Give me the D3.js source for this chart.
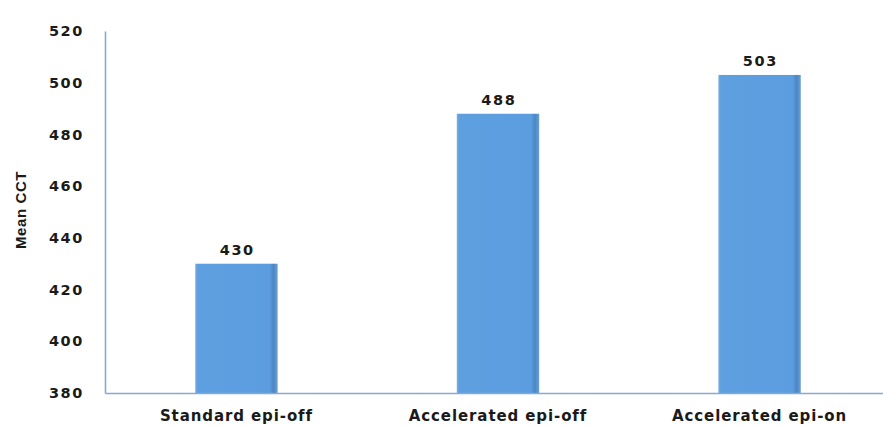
<!DOCTYPE html>
<html>
<head>
<meta charset="utf-8">
<script src="https://cdn.jsdelivr.net/npm/d3@7"></script>
<style>
  html, body { margin: 0; padding: 0; background: #fff; }
  svg { display: block; }
</style>
</head>
<body>
<svg id="chart" width="883" height="426"></svg>
<script>
// Mean corneal thickness per cross-linking protocol
const categories = ["Standard epi-off", "Accelerated epi-off", "Accelerated epi-on"];
const meanCCT = [430, 488, 503];
const yTicks = [380, 400, 420, 440, 460, 480, 500, 520];

const W = 883, H = 426;
const margin = { left: 105, right: 0, top: 31, bottom: 33 };
const labelFont = "DejaVu Sans, Verdana, sans-serif";

const svg = d3.select("#chart");

const x = d3.scaleBand()
  .domain(categories)
  .range([105, 891])
  .paddingInner(0.685)
  .paddingOuter(0.345);

const y = d3.scaleLinear()
  .domain([380, 520])
  .range([H - margin.bottom, margin.top]);

// bar shading: light body with a darker right rim
const defs = svg.append("defs");
const grad = defs.append("linearGradient").attr("id", "barFill")
  .attr("x1", 0).attr("x2", 1).attr("y1", 0).attr("y2", 0);
grad.append("stop").attr("offset", "0%").attr("stop-color", "#7aaee0");
grad.append("stop").attr("offset", "3%").attr("stop-color", "#5e9fe0");
grad.append("stop").attr("offset", "90%").attr("stop-color", "#5b9ddf");
grad.append("stop").attr("offset", "95%").attr("stop-color", "#4c86c4");
grad.append("stop").attr("offset", "100%").attr("stop-color", "#6a9fd2");

const data = categories.map((c, i) => ({ c, v: meanCCT[i] }));

svg.append("g").selectAll("rect")
  .data(data)
  .join("rect")
  .attr("x", d => x(d.c))
  .attr("width", x.bandwidth())
  .attr("y", d => y(d.v))
  .attr("height", d => y(380) - y(d.v))
  .attr("fill", "url(#barFill)");

// value labels
svg.append("g").selectAll("text")
  .data(data)
  .join("text")
  .attr("x", d => x(d.c) + x.bandwidth() / 2 + 0.8)
  .attr("y", d => y(d.v) - 9)
  .attr("text-anchor", "middle")
  .attr("font-family", labelFont)
  .attr("font-weight", "bold")
  .attr("font-size", 14.5)
  .attr("letter-spacing", 1.6)
  .attr("fill", "#1a1a1a")
  .text(d => d.v);

// y axis
const yAxis = svg.append("g")
  .attr("transform", `translate(${margin.left},0)`)
  .call(d3.axisLeft(y).tickValues(yTicks).tickSize(0).tickPadding(21));
yAxis.select(".domain").attr("stroke", "#86aad4").attr("stroke-width", 1.6);
yAxis.selectAll("text")
  .attr("font-family", labelFont)
  .attr("font-weight", "bold")
  .attr("font-size", 14.5)
  .attr("letter-spacing", 1.6)
  .attr("fill", "#1a1a1a");

// x axis
const xAxis = svg.append("g")
  .attr("transform", `translate(0,${y(380)})`)
  .call(d3.axisBottom(x).tickSize(0).tickPadding(17));
xAxis.select(".domain").attr("stroke", "#86aad4").attr("stroke-width", 1.6);
xAxis.selectAll("text")
  .attr("font-family", labelFont)
  .attr("font-weight", "bold")
  .attr("font-size", 15)
  .attr("letter-spacing", 0.9)
  .attr("fill", "#1a1a1a");

// y axis title
svg.append("text")
  .attr("transform", `translate(26,210) rotate(-90)`)
  .attr("text-anchor", "middle")
  .attr("font-family", "Liberation Sans, Arial, sans-serif")
  .attr("font-weight", "bold")
  .attr("font-size", 15)
  .attr("letter-spacing", 0.6)
  .attr("fill", "#1a1a1a")
  .text("Mean CCT");
</script>
</body>
</html>
